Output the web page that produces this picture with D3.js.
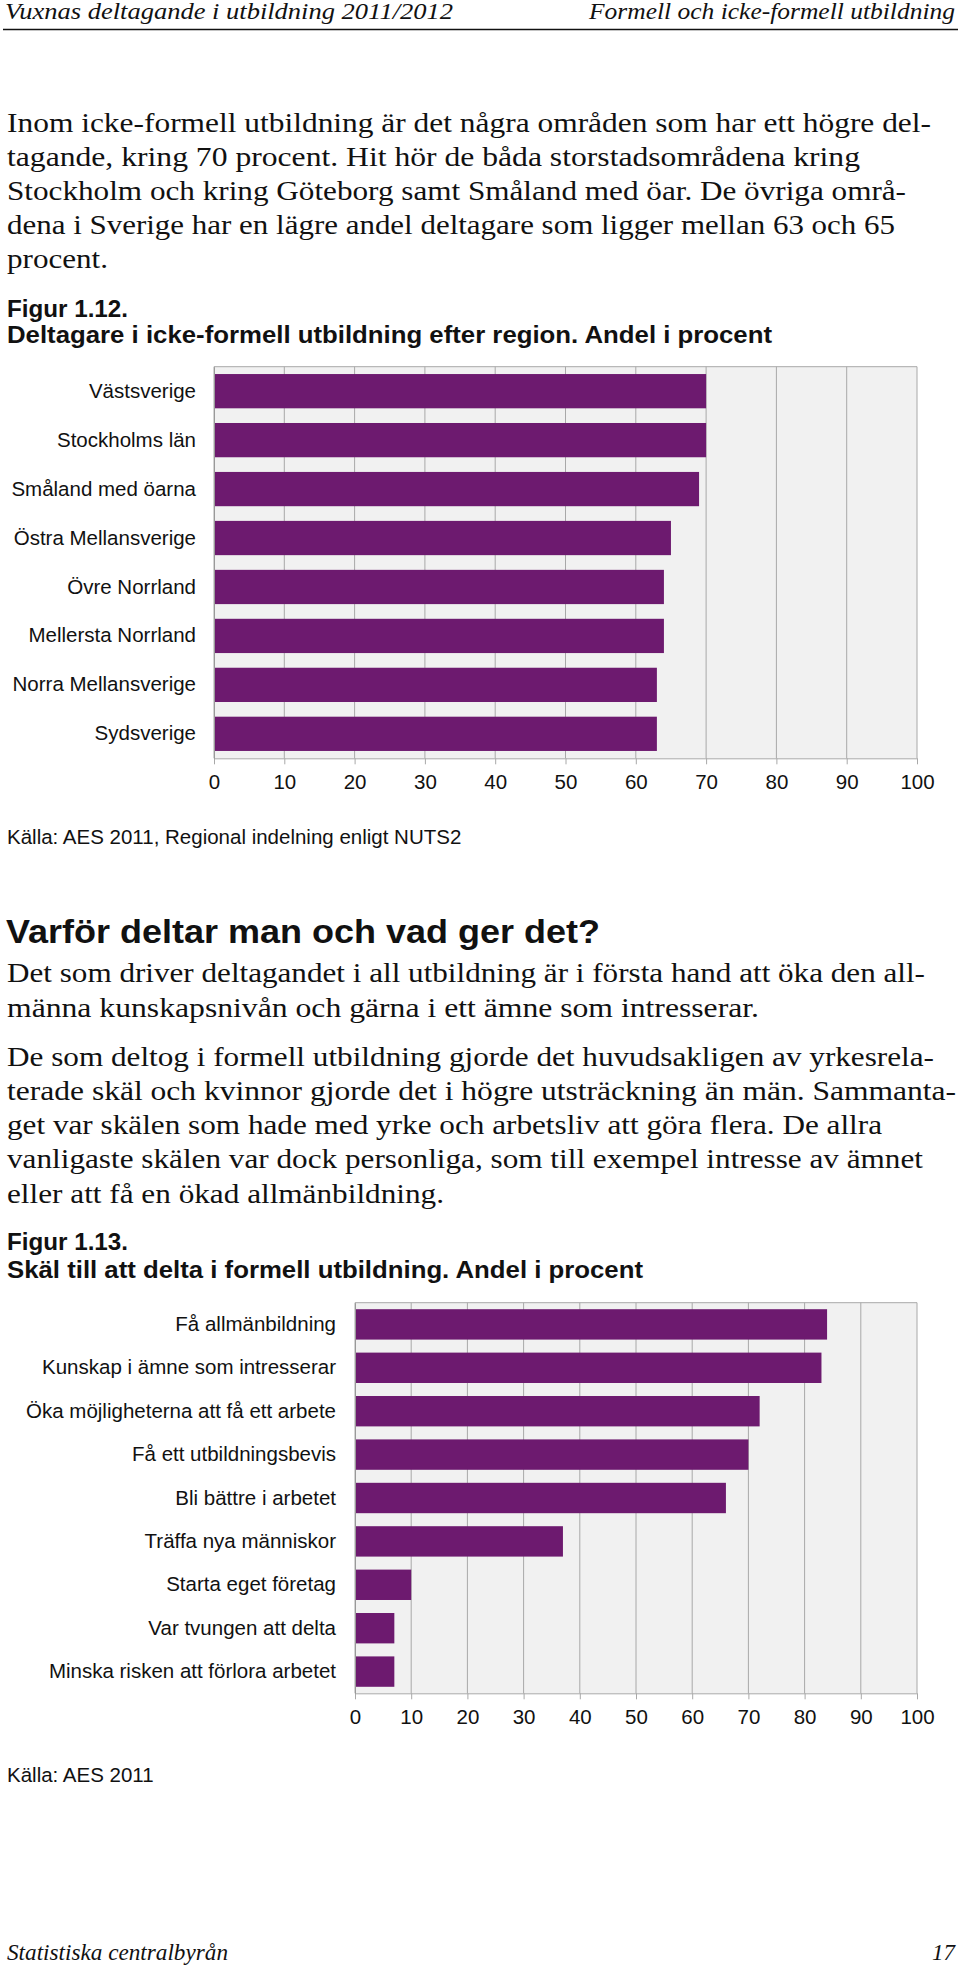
<!DOCTYPE html>
<html>
<head>
<meta charset="utf-8">
<script src="https://cdn.jsdelivr.net/npm/d3@7"></script>
<style>
  html, body { margin: 0; padding: 0; background: #fff; }
  svg { display: block; }
</style>
</head>
<body>
<script>
// ---------- data ----------
const regions = ["Västsverige", "Stockholms län", "Småland med öarna", "Östra Mellansverige",
  "Övre Norrland", "Mellersta Norrland", "Norra Mellansverige", "Sydsverige"];
const regionValues = [70, 70, 69, 65, 64, 64, 63, 63];

const reasons = ["Få allmänbildning", "Kunskap i ämne som intresserar", "Öka möjligheterna att få ett arbete",
  "Få ett utbildningsbevis", "Bli bättre i arbetet", "Träffa nya människor", "Starta eget företag",
  "Var tvungen att delta", "Minska risken att förlora arbetet"];
const reasonValues = [84, 83, 72, 70, 66, 37, 10, 7, 7];

const tickValues = [0, 10, 20, 30, 40, 50, 60, 70, 80, 90, 100];

const source1 = "Källa: AES 2011, Regional indelning enligt NUTS2";
const source2 = "Källa: AES 2011";

// ---------- page text (line, baseline, width) ----------
const SERIF = "'Liberation Serif', 'Times New Roman', serif";
const SANS = "'Liberation Sans', Arial, Helvetica, sans-serif";

const W = 960, H = 1969;
const svg = d3.select("body").append("svg").attr("width", W).attr("height", H);
svg.append("rect").attr("width", W).attr("height", H).attr("fill", "#fff");

function line(txt, x, y, width, opts) {
  const t = svg.append("text")
    .attr("x", x).attr("y", y)
    .attr("font-family", opts.family)
    .attr("font-size", opts.size)
    .attr("font-weight", opts.weight || "normal")
    .attr("font-style", opts.style || "normal")
    .attr("fill", "#111")
    .attr("text-anchor", opts.anchor || "start")
    .text(txt);
  if (width) t.attr("textLength", width).attr("lengthAdjust", "spacingAndGlyphs");
  return t;
}

// running header
line("Vuxnas deltagande i utbildning 2011/2012", 5, 18.5, 448, {family: SERIF, size: 23, style: "italic"});
line("Formell och icke-formell utbildning", 589, 18.5, 366, {family: SERIF, size: 23, style: "italic"});
svg.append("line").attr("x1", 3).attr("x2", 958).attr("y1", 29.5).attr("y2", 29.5)
  .attr("stroke", "#111").attr("stroke-width", 1.6);

const body = {family: SERIF, size: 28};
const para1 = [
  ["Inom icke-formell utbildning är det några områden som har ett högre del-", 131.7, 924],
  ["tagande, kring 70 procent. Hit hör de båda storstadsområdena kring", 166, 853],
  ["Stockholm och kring Göteborg samt Småland med öar. De övriga områ-", 200, 899],
  ["dena i Sverige har en lägre andel deltagare som ligger mellan 63 och 65", 234.3, 888],
  ["procent.", 268.3, 101]
];
para1.forEach(d => line(d[0], 7, d[1], d[2], body));

const figTitle = {family: SANS, size: 23, weight: "bold"};
line("Figur 1.12.", 7, 316.7, 121, figTitle);
line("Deltagare i icke-formell utbildning efter region. Andel i procent", 7, 343.3, 765, figTitle);

line("Varför deltar man och vad ger det?", 6, 942.7, 594, {family: SANS, size: 33, weight: "bold"});

const para2 = [
  ["Det som driver deltagandet i all utbildning är i första hand att öka den all-", 981.7, 918],
  ["männa kunskapsnivån och gärna i ett ämne som intresserar.", 1016.7, 752],
  ["De som deltog i formell utbildning gjorde det huvudsakligen av yrkesrela-", 1066, 927],
  ["terade skäl och kvinnor gjorde det i högre utsträckning än män. Sammanta-", 1100, 949],
  ["get var skälen som hade med yrke och arbetsliv att göra flera. De allra", 1134, 875],
  ["vanligaste skälen var dock personliga, som till exempel intresse av ämnet", 1168.3, 916],
  ["eller att få en ökad allmänbildning.", 1202.7, 437]
];
para2.forEach(d => line(d[0], 7, d[1], d[2], body));

line("Figur 1.13.", 7, 1250, 121, figTitle);
line("Skäl till att delta i formell utbildning. Andel i procent", 7, 1278.3, 636, figTitle);

// footer
line("Statistiska centralbyrån", 7, 1960, 221, {family: SERIF, size: 23, style: "italic"});
line("17", 955, 1960, null, {family: SERIF, size: 23, style: "italic", anchor: "end"});

// ---------- charts ----------
const BAR = "#6d1a6f";
const BG = "#f1f1f1";
const GRID = "#a8a8a8";
const FS = 20.5;

function barChart(cats, vals, box) {
  const g = svg.append("g");
  const x = d3.scaleLinear().domain([0, 100]).range([box.left, box.right]);
  const y = d3.scaleBand().domain(cats).range([box.top, box.bottom])
    .paddingInner(0.3).paddingOuter(0.15);

  g.append("rect").attr("x", box.left).attr("y", box.top)
    .attr("width", box.right - box.left).attr("height", box.bottom - box.top)
    .attr("fill", BG);

  g.selectAll("line.grid").data(tickValues).join("line").attr("class", "grid")
    .attr("x1", d => x(d)).attr("x2", d => x(d))
    .attr("y1", box.top).attr("y2", box.bottom)
    .attr("stroke", GRID).attr("stroke-width", 1);
  g.append("line").attr("x1", box.left).attr("x2", box.right)
    .attr("y1", box.top).attr("y2", box.top).attr("stroke", GRID).attr("stroke-width", 1);

  g.selectAll("rect.bar").data(vals).join("rect").attr("class", "bar")
    .attr("x", x(0)).attr("y", (d, i) => y(cats[i]))
    .attr("width", d => x(d) - x(0)).attr("height", y.bandwidth())
    .attr("fill", BAR);

  const xa = g.append("g").attr("transform", `translate(0,${box.bottom})`)
    .call(d3.axisBottom(x).tickValues(tickValues).tickSize(6).tickPadding(10).tickSizeOuter(0));
  xa.select(".domain").attr("stroke", GRID);
  xa.selectAll(".tick line").attr("stroke", GRID);
  xa.selectAll("text").attr("font-family", SANS).attr("font-size", FS).attr("fill", "#111");

  const ya = g.append("g").attr("transform", `translate(${box.left},0)`)
    .call(d3.axisLeft(y).tickSize(0).tickPadding(box.labelPad).tickSizeOuter(0));
  ya.select(".domain").attr("stroke", "#999");
  ya.selectAll("text").attr("font-family", SANS).attr("font-size", FS).attr("fill", "#111");
  return g;
}

barChart(regions, regionValues, {left: 214, right: 917, top: 366.7, bottom: 758.3, labelPad: 18});
line(source1, 7, 844, null, {family: SANS, size: FS});

barChart(reasons, reasonValues, {left: 355, right: 917, top: 1302.7, bottom: 1693.3, labelPad: 19});
line(source2, 7, 1781.7, null, {family: SANS, size: FS});
</script>
</body>
</html>
